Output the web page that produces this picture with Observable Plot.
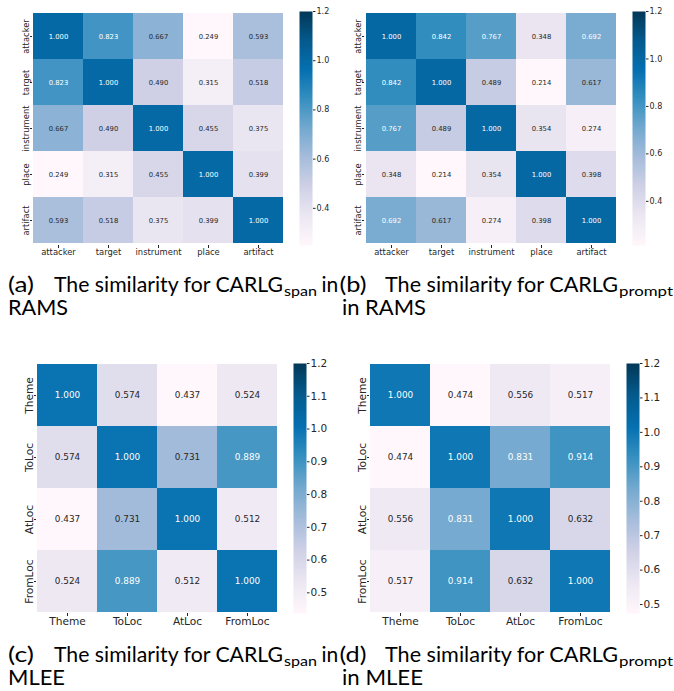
<!DOCTYPE html>
<html>
<head>
<meta charset="utf-8">
<script src="https://cdn.jsdelivr.net/npm/d3@7"></script>
<script src="https://cdn.jsdelivr.net/npm/@observablehq/plot@0.6"></script>
<style>
  html, body { margin: 0; padding: 0; background: #fff; }
  #page { position: relative; width: 674px; height: 691px; overflow: hidden; background: #fff; }
  #page > svg, #page > figure { position: absolute; margin: 0; }
  .cap { font-family: Lato, "Noto Sans", sans-serif; fill: #000; }
</style>
</head>
<body>
<div id="page"></div>
<script>
// ---------- data ----------
const ramsRoles = ["attacker", "target", "instrument", "place", "artifact"];
const ramsSpan = [
  [1.000, 0.823, 0.667, 0.249, 0.593],
  [0.823, 1.000, 0.490, 0.315, 0.518],
  [0.667, 0.490, 1.000, 0.455, 0.375],
  [0.249, 0.315, 0.455, 1.000, 0.399],
  [0.593, 0.518, 0.375, 0.399, 1.000]
];
const ramsPrompt = [
  [1.000, 0.842, 0.767, 0.348, 0.692],
  [0.842, 1.000, 0.489, 0.214, 0.617],
  [0.767, 0.489, 1.000, 0.354, 0.274],
  [0.348, 0.214, 0.354, 1.000, 0.398],
  [0.692, 0.617, 0.274, 0.398, 1.000]
];
const mleeRoles = ["Theme", "ToLoc", "AtLoc", "FromLoc"];
const mleeSpan = [
  [1.000, 0.574, 0.437, 0.524],
  [0.574, 1.000, 0.731, 0.889],
  [0.437, 0.731, 1.000, 0.512],
  [0.524, 0.889, 0.512, 1.000]
];
const mleePrompt = [
  [1.000, 0.474, 0.556, 0.517],
  [0.474, 1.000, 0.831, 0.914],
  [0.556, 0.831, 1.000, 0.632],
  [0.517, 0.914, 0.632, 1.000]
];
const colorbarMax = 1.2;
const ramsTicks = [0.4, 0.6, 0.8, 1.0, 1.2];
const mleeTicks = [0.5, 0.6, 0.7, 0.8, 0.9, 1.0, 1.1, 1.2];

// matplotlib PuBu stops
const puBu = ["#fff7fb", "#ece7f2", "#d0d1e6", "#a6bddb", "#74a9cf", "#3690c0", "#0570b0", "#045a8d", "#023858"];

const page = document.getElementById("page");
const fmt = d3.format(".3f");
const tickColor = "#262626";

function colorDomain(vmin) {
  return d3.range(puBu.length).map(i => vmin + i * (colorbarMax - vmin) / (puBu.length - 1));
}

function isDarkCell(v, vmin) {
  const s = d3.scaleLinear().domain(colorDomain(vmin)).range(puBu).interpolate(d3.interpolateRgb).clamp(true);
  const c = d3.rgb(s(v));
  const lin = x => { x /= 255; return x <= 0.03928 ? x / 12.92 : Math.pow((x + 0.055) / 1.055, 2.4); };
  const lum = 0.2126 * lin(c.r) + 0.7152 * lin(c.g) + 0.0722 * lin(c.b);
  return lum <= 0.408;
}

function place(el, left, top) {
  el.style.left = left + "px";
  el.style.top = top + "px";
  page.appendChild(el);
}

function heatmap(roles, matrix, box, sz) {
  const cells = roles.flatMap((r, i) => roles.map((c, j) => ({row: r, col: c, value: matrix[i][j]})));
  const vmin = d3.min(cells, d => d.value);
  const domain = colorDomain(vmin);
  const ml = 40, mr = 6, mt = 6, mb = 30;
  const plot = Plot.plot({
    width: box.x1 - box.x0 + ml + mr,
    height: box.y1 - box.y0 + mt + mb,
    marginLeft: ml, marginRight: mr, marginTop: mt, marginBottom: mb,
    style: {fontFamily: "DejaVu Sans", color: tickColor, background: "transparent", overflow: "visible"},
    x: {domain: roles, padding: 0, label: null},
    y: {domain: roles, padding: 0, label: null},
    color: {type: "linear", domain, range: puBu, interpolate: "rgb", clamp: true},
    marks: [
      Plot.cell(cells, {x: "col", y: "row", fill: "value", inset: 0, shapeRendering: "crispEdges"}),
      Plot.text(cells, {x: "col", y: "row", text: d => fmt(d.value), filter: d => isDarkCell(d.value, vmin), fill: "white", fontSize: sz.annot}),
      Plot.text(cells, {x: "col", y: "row", text: d => fmt(d.value), filter: d => !isDarkCell(d.value, vmin), fill: tickColor, fontSize: sz.annot}),
      Plot.axisX({tickSize: 3, tickPadding: sz.xpad, fontSize: sz.tick, label: null}),
      Plot.axisY({tickSize: 2, tickFormat: () => "", label: null}),
      Plot.text(roles, {y: d => d, text: d => d, frameAnchor: "left", dx: -sz.ygap, rotate: -90,
        lineAnchor: "bottom", textAnchor: "middle", fontSize: sz.tick, fill: tickColor})
    ]
  });
  place(plot, box.x0 - ml, box.y0 - mt);

  // colorbar
  const cw = box.cx1 - box.cx0;
  const cmt = 6, cmb = 6, cmr = 30;
  const bar = Plot.plot({
    width: cw + cmr,
    height: box.y1 - box.y0 + cmt + cmb,
    marginLeft: 0, marginRight: cmr, marginTop: cmt, marginBottom: cmb,
    style: {fontFamily: "DejaVu Sans", color: tickColor, background: "transparent", overflow: "visible"},
    x: {domain: [0, 1], axis: null},
    y: {domain: [vmin, colorbarMax], label: null},
    color: {type: "linear", domain, range: puBu, interpolate: "rgb", clamp: true},
    marks: [
      Plot.raster({x1: 0, x2: 1, y1: vmin, y2: colorbarMax, fill: (x, y) => y, width: 1, height: 400}),
      Plot.axisY(sz.ticks, {anchor: "right", tickSize: 2.5, tickPadding: 1.5, tickFormat: d3.format(".1f"), fontSize: sz.cbar, label: null})
    ]
  });
  place(bar, box.cx0, box.y0 - cmt);
}

const topSz = {annot: 6.8, tick: 8.4, cbar: 8, xpad: 0.5, ygap: 3.8, ticks: ramsTicks};
const botSz = {annot: 8.85, tick: 10.6, cbar: 10.5, xpad: 0.5, ygap: 3.2, ticks: mleeTicks};

heatmap(ramsRoles, ramsSpan, {x0: 32, x1: 284, y0: 11, y1: 245, cx0: 299, cx1: 312}, topSz);
heatmap(ramsRoles, ramsPrompt, {x0: 364, x1: 617, y0: 11, y1: 245, cx0: 632, cx1: 645}, topSz);
heatmap(mleeRoles, mleeSpan, {x0: 36, x1: 278, y0: 363, y1: 613, cx0: 293, cx1: 306}, botSz);
heatmap(mleeRoles, mleePrompt, {x0: 369, x1: 611, y0: 363, y1: 613, cx0: 626, cx1: 639}, botSz);

// ---------- captions ----------
const captionParts = [
  {label: "(a)", body: "The similarity for CARLG", sub: "span", tail: "in", line2: "RAMS", row: 0, col: 0},
  {label: "(b)", body: "The similarity for CARLG", sub: "prompt", tail: "", line2: "in RAMS", row: 0, col: 1},
  {label: "(c)", body: "The similarity for CARLG", sub: "span", tail: "in", line2: "MLEE", row: 1, col: 0},
  {label: "(d)", body: "The similarity for CARLG", sub: "prompt", tail: "", line2: "in MLEE", row: 1, col: 1}
];
const ns = "http://www.w3.org/2000/svg";
const capSvg = document.createElementNS(ns, "svg");
capSvg.setAttribute("width", 674);
capSvg.setAttribute("height", 691);
capSvg.style.left = "0px"; capSvg.style.top = "0px";
page.appendChild(capSvg);
function txt(s, x, y, size, len) {
  const t = document.createElementNS(ns, "text");
  t.setAttribute("class", "cap");
  t.setAttribute("x", x); t.setAttribute("y", y);
  t.setAttribute("font-size", size);
  if (len) { t.setAttribute("textLength", len); t.setAttribute("lengthAdjust", "spacingAndGlyphs"); }
  t.textContent = s;
  capSvg.appendChild(t);
  return t;
}
const baselines = [[292, 315], [662, 685]];
const capSize = 21, subSize = 14;
for (const c of captionParts) {
  const [b1, b2] = baselines[c.row];
  const l2len = c.line2.length > 5 ? (c.line2.includes("RAMS") ? 84 : 81) : (c.line2 === "RAMS" ? 60 : 57);
  if (c.col === 0) {
    txt(c.label, 8, b1, capSize, 26);
    txt(c.body, 54, b1, capSize, 229);
    txt(c.sub, 284, b1 + 4, subSize, 33);
    txt(c.tail, 321.5, b1, capSize);
    txt(c.line2, 8, b2, capSize, l2len);
  } else {
    txt(c.label, 339.5, b1, capSize, 27);
    txt(c.body, 385, b1, capSize, 233);
    txt(c.sub, 619, b1 + 4, subSize, 54);
    txt(c.line2, 342, b2, capSize, l2len);
  }
}
</script>
</body>
</html>
